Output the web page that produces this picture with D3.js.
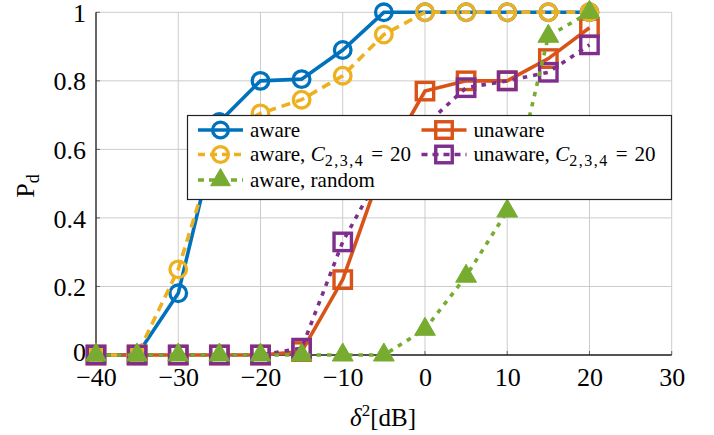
<!DOCTYPE html>
<html><head><meta charset="utf-8">
<script src="https://cdn.jsdelivr.net/npm/d3@7"></script>
<style>
html,body{margin:0;padding:0;background:#fff;}
svg{display:block;}
text{font-family:"Liberation Serif","Times New Roman",Tinos,serif;fill:#000;}
</style></head>
<body>
<svg id="chart" width="714" height="435"></svg>
<script>
// ---- data ----
const xValues = [-40, -35, -30, -25, -20, -15, -10, -5, 0, 5, 10, 15, 20];
const aware = [0, 0, 0.18, 0.68, 0.80, 0.805, 0.89, 1, 1, 1, 1, 1, 1];
const unaware = [0, 0, 0, 0, 0, 0.01, 0.22, 0.56, 0.77, 0.80, 0.80, 0.865, 0.955];
const awareC = [0, 0, 0.25, 0.64, 0.705, 0.745, 0.815, 0.935, 1, 1, 1, 1, 1];
const unawareC = [0, 0, 0, 0, 0, 0.02, 0.33, 0.55, 0.67, 0.78, 0.80, 0.825, 0.905];
const awareRandom = [0, 0, 0, 0, 0, 0, 0, 0, 0.075, 0.23, 0.42, 0.93, 1];
const xTicks = [-40, -30, -20, -10, 0, 10, 20, 30];
const yTicks = [0, 0.2, 0.4, 0.6, 0.8, 1];

const FONT = '"Liberation Serif","Times New Roman",Tinos,serif';

const series = [
  {name: "aware", values: aware, color: "#0072BD", dash: null, mark: "circle"},
  {name: "unaware", values: unaware, color: "#D95319", dash: null, mark: "square"},
  {name: "awareC", values: awareC, color: "#EDB120", dash: "9,6", mark: "circle"},
  {name: "unawareC", values: unawareC, color: "#7E2F8E", dash: "4.5,6", mark: "square"},
  {name: "random", values: awareRandom, color: "#77AC30", dash: "4.5,6", mark: "triangle"}
];

const svg = d3.select("#chart");
const x = d3.scaleLinear().domain([-40, 30]).range([96, 671.7]);
const y = d3.scaleLinear().domain([0, 1]).range([355, 12.3]);

// grid
const grid = svg.append("g");
xTicks.forEach(t => grid.append("line").attr("x1", x(t)).attr("x2", x(t)).attr("y1", y(0)).attr("y2", y(1))
  .attr("stroke", "#cccccc").attr("stroke-width", 1));
yTicks.forEach(t => grid.append("line").attr("x1", x(-40)).attr("x2", x(30)).attr("y1", y(t)).attr("y2", y(t))
  .attr("stroke", "#cccccc").attr("stroke-width", 1));

// axes
const xAxis = d3.axisBottom(x).tickValues(xTicks).tickSize(0).tickPadding(15)
  .tickFormat(d => d < 0 ? "\u2212" + Math.abs(d) : String(d));
const yAxis = d3.axisLeft(y).tickValues(yTicks).tickSize(0).tickPadding(10)
  .tickFormat(d => d === 0 ? "0" : d === 1 ? "1" : d3.format(".1f")(d));
const gx = svg.append("g").attr("transform", `translate(0,${y(0)})`).call(xAxis);
const gy = svg.append("g").attr("transform", `translate(${x(-40)},0)`).call(yAxis);
[gx, gy].forEach(g => {
  g.attr("font-family", null).attr("font-size", null);
  g.select(".domain").remove();
  g.selectAll("text").style("font-family", FONT).style("font-size", "26px").attr("fill", "#000");
});
gx.selectAll("text").attr("dy", "0.62em");
gy.selectAll("text").attr("dy", d => d === 0 ? "0.2em" : "0.35em");
// inner tick marks
xTicks.forEach(t => svg.append("line").attr("x1", x(t)).attr("x2", x(t)).attr("y1", y(0)).attr("y2", y(0) - 4).attr("stroke", "#666"));
yTicks.forEach(t => svg.append("line").attr("x1", x(-40)).attr("x2", x(-40) + 4).attr("y1", y(t)).attr("y2", y(t)).attr("stroke", "#666"));
// axis lines
svg.append("line").attr("x1", x(-40)).attr("x2", x(30)).attr("y1", y(0)).attr("y2", y(0)).attr("stroke", "#222").attr("stroke-width", 1.3);
svg.append("line").attr("x1", x(-40)).attr("x2", x(-40)).attr("y1", y(0)).attr("y2", y(1)).attr("stroke", "#222").attr("stroke-width", 1.3);

function drawMark(g, type, cx, cy, color, s) {
  s = s || 1;
  if (type === "circle") {
    g.append("circle").attr("cx", cx).attr("cy", cy).attr("r", 8.3 * s)
      .attr("fill", "none").attr("stroke", color).attr("stroke-width", 3.3);
  } else if (type === "square") {
    const h = 8.7 * s;
    g.append("rect").attr("x", cx - h).attr("y", cy - h).attr("width", 2 * h).attr("height", 2 * h)
      .attr("fill", "none").attr("stroke", color).attr("stroke-width", 3.4);
  } else {
    const r = 12 * s;
    const pts = [[cx, cy - r], [cx - 0.866 * r, cy + 0.5 * r], [cx + 0.866 * r, cy + 0.5 * r]];
    g.append("polygon").attr("points", pts.map(p => p.join(",")).join(" "))
      .attr("fill", color).attr("stroke", color).attr("stroke-width", 1).attr("stroke-linejoin", "miter");
  }
}

const line = d3.line().x(d => x(d[0])).y(d => y(d[1]));
series.forEach(s => {
  const g = svg.append("g");
  const pts = xValues.map((xv, i) => [xv, s.values[i]]);
  g.append("path").attr("d", line(pts)).attr("fill", "none").attr("stroke", s.color)
    .attr("stroke-width", 3.6).attr("stroke-dasharray", s.dash).attr("stroke-linejoin", "miter");
  pts.forEach(p => drawMark(g, s.mark, x(p[0]), y(p[1]), s.color));
});

// legend
const leg = svg.append("g");
leg.append("rect").attr("x", 187.5).attr("y", 115.5).attr("width", 484).attr("height", 84)
  .attr("fill", "#fff").attr("stroke", "#222").attr("stroke-width", 1.2);
const legendItems = [
  {s: series[0], col: 0, row: 0, label: [["aware", {}]]},
  {s: series[1], col: 1, row: 0, label: [["unaware", {}]]},
  {s: series[2], col: 0, row: 1, label: [["aware, ", {}], ["C", {italic: true}], ["2,3,4", {sub: true}], [" = 20", {shift: true}]]},
  {s: series[3], col: 1, row: 1, label: [["unaware, ", {}], ["C", {italic: true}], ["2,3,4", {sub: true}], [" = 20", {shift: true}]]},
  {s: series[4], col: 0, row: 2, label: [["aware, random", {}]]}
];
const colX = [198, 421.5];
const rowY = [130, 154.5, 180];
legendItems.forEach(it => {
  const x0 = colX[it.col], yy = rowY[it.row];
  leg.append("line").attr("x1", x0).attr("x2", x0 + 45).attr("y1", yy).attr("y2", yy)
    .attr("stroke", it.s.color).attr("stroke-width", 3.6).attr("stroke-dasharray", it.s.dash ? (it.s.dash === "9,6" ? "7,5" : "6,5") : null);
  drawMark(leg, it.s.mark, x0 + 22.5, yy, it.s.color, 0.95);
  const t = leg.append("text").attr("x", x0 + 52).attr("y", yy + 6.5).style("font-size", "21px");
  it.label.forEach(([txt, o]) => {
    const ts = t.append("tspan").text(txt);
    if (o.italic) ts.style("font-style", "italic");
    if (o.sub) ts.attr("dy", 5).style("font-size", "16px").style("letter-spacing", "1.5px");
    if (o.shift) { ts.attr("dy", -5).text("\u2004=\u200420"); }
  });
});

// axis labels
const xl = svg.append("text").attr("x", 383).attr("y", 426).attr("text-anchor", "middle").style("font-size", "25px");
xl.append("tspan").text("\u03B4").style("font-style", "italic");
xl.append("tspan").text("2").attr("dy", -10).style("font-size", "17px");
xl.append("tspan").text("[dB]").attr("dy", 10);

const yl = svg.append("text").attr("transform", "translate(34,186) rotate(-90)").attr("text-anchor", "middle").style("font-size", "26px");
yl.append("tspan").text("P");
yl.append("tspan").text("d").attr("dy", 5).style("font-size", "18px");
</script>
</body></html>
